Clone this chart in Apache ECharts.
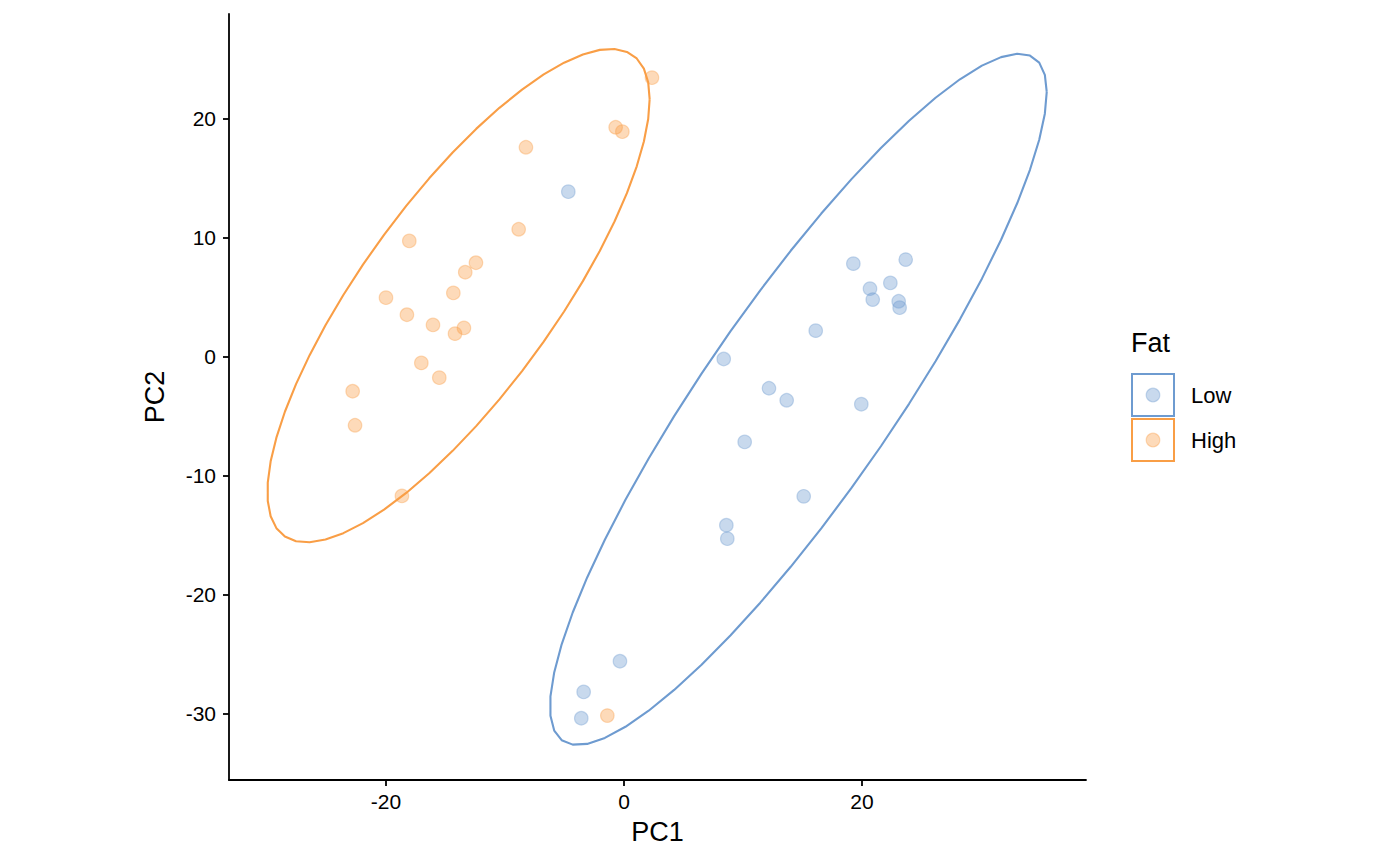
<!DOCTYPE html>
<html>
<head>
<meta charset="utf-8">
<script src="https://cdn.jsdelivr.net/npm/echarts@6/dist/echarts.min.js"></script>
<style>
html,body{margin:0;padding:0;background:#fff;}
#chart{width:1400px;height:865px;}
</style>
</head>
<body>
<div id="chart"></div>
<script>
// ---- data ----
const groups = ['Low', 'High'];
const lowPC1 = [-4.68, 23.67, 19.27, 22.38, 20.67, 20.90, 23.08, 23.16, 16.11, 8.38, 12.18, 13.67, 19.94, 10.14, 15.10, 8.60, 8.68, -0.34, -3.39, -3.59];
const lowPC2 = [13.89, 8.18, 7.84, 6.22, 5.74, 4.82, 4.68, 4.14, 2.21, -0.17, -2.63, -3.64, -3.97, -7.14, -11.71, -14.14, -15.27, -25.57, -28.15, -30.36];
const highPC1 = [2.35, -0.70, -0.14, -8.24, -8.85, -18.04, -12.44, -13.34, -14.34, -20.00, -18.24, -16.05, -13.45, -14.20, -17.03, -15.52, -22.80, -22.60, -18.66, -1.40];
const highPC2 = [23.47, 19.30, 18.93, 17.62, 10.73, 9.75, 7.92, 7.12, 5.38, 4.98, 3.55, 2.69, 2.44, 1.96, -0.50, -1.74, -2.88, -5.74, -11.68, -30.14];
const xTicks = [-20, 0, 20];
const yTicks = [-30, -20, -10, 0, 10, 20];
const xRange = [-33.19, 38.82];
const yRange = [-35.55, 28.82];

const colors = { Low: '#6E9BD0', High: '#F99E46' };

// ---- stat_ellipse (type "t", level 0.95) computed from the points ----
function covTrob(pts, nu, maxit, tol) {
  const n = pts.length, p = 2;
  let loc = [0, 0];
  pts.forEach(q => { loc[0] += q[0] / n; loc[1] += q[1] / n; });
  let w = new Array(n).fill(1);
  let X = null;
  for (let iter = 0; iter < maxit; iter++) {
    const w0 = w.slice();
    X = pts.map(q => [q[0] - loc[0], q[1] - loc[1]]);
    const sw = w.reduce((a, b) => a + b, 0);
    let sxx = 0, sxy = 0, syy = 0;
    for (let i = 0; i < n; i++) {
      sxx += w[i] * X[i][0] * X[i][0] / sw;
      sxy += w[i] * X[i][0] * X[i][1] / sw;
      syy += w[i] * X[i][1] * X[i][1] / sw;
    }
    const det = sxx * syy - sxy * sxy;
    w = X.map(v => {
      const Q = (syy * v[0] * v[0] - 2 * sxy * v[0] * v[1] + sxx * v[1] * v[1]) / det;
      return (nu + p) / (nu + Q);
    });
    const sw2 = w.reduce((a, b) => a + b, 0);
    loc = [0, 0];
    for (let i = 0; i < n; i++) { loc[0] += w[i] * pts[i][0] / sw2; loc[1] += w[i] * pts[i][1] / sw2; }
    let done = true;
    for (let i = 0; i < n; i++) if (Math.abs(w[i] - w0[i]) >= tol) { done = false; break; }
    if (done) break;
  }
  let cxx = 0, cxy = 0, cyy = 0;
  for (let i = 0; i < n; i++) {
    cxx += w[i] * X[i][0] * X[i][0] / n;
    cxy += w[i] * X[i][0] * X[i][1] / n;
    cyy += w[i] * X[i][1] * X[i][1] / n;
  }
  return { center: loc, cov: [[cxx, cxy], [cxy, cyy]] };
}
function ellipsePath(pts) {
  const n = pts.length, segments = 51, level = 0.95;
  const est = covTrob(pts, 5, 25, 0.01);
  const dfd = n - 1;
  const fq = (dfd / 2) * (Math.pow(1 - level, -2 / dfd) - 1); // qf(level, 2, dfd)
  const r = Math.sqrt(2 * fq);
  const a = Math.sqrt(est.cov[0][0]);
  const b = est.cov[0][1] / a;
  const c = Math.sqrt(est.cov[1][1] - b * b);
  const out = [];
  for (let k = 0; k <= segments; k++) {
    const t = k * 2 * Math.PI / segments;
    const ct = Math.cos(t), st = Math.sin(t);
    out.push([est.center[0] + r * ct * a, est.center[1] + r * (ct * b + st * c)]);
  }
  return out;
}

const lowPts = lowPC1.map((v, i) => [v, lowPC2[i]]);
const highPts = highPC1.map((v, i) => [v, highPC2[i]]);
const ptsBy = { Low: lowPts, High: highPts };

function rgba(hex, a) {
  const v = parseInt(hex.slice(1), 16);
  return 'rgba(' + (v >> 16 & 255) + ',' + (v >> 8 & 255) + ',' + (v & 255) + ',' + a + ')';
}

const series = [];
groups.forEach(g => {
  series.push({
    name: g, type: 'scatter', data: ptsBy[g], symbolSize: 13.5,
    itemStyle: { color: rgba(colors[g], 0.38), borderColor: rgba(colors[g], 0.38), borderWidth: 1.2, opacity: 1 },
    emphasis: { disabled: true }, z: 2
  });
});
groups.forEach(g => {
  series.push({
    name: g + ' ellipse', type: 'line', data: ellipsePath(ptsBy[g]), showSymbol: false, smooth: false,
    lineStyle: { color: colors[g], width: 2.1 }, emphasis: { disabled: true }, z: 3
  });
});

const font = 'Liberation Sans, Arial, Helvetica, sans-serif';
const legendX = 1131, legendY = 374, box = 44;
const graphic = [
  { type: 'text', left: legendX, top: 329, style: { text: 'Fat', font: '27px ' + font, fill: '#000' } }
];
groups.forEach((g, i) => {
  const y0 = legendY + i * (box + 1);
  graphic.push({ type: 'rect', shape: { x: legendX + 1, y: y0, width: box - 2, height: box - 2 },
    style: { fill: 'none', stroke: colors[g], lineWidth: 2 } });
  graphic.push({ type: 'circle', shape: { cx: legendX + box / 2, cy: y0 + box / 2 - 1, r: 6.8 },
    style: { fill: rgba(colors[g], 0.38), stroke: rgba(colors[g], 0.38), lineWidth: 1.2 } });
  graphic.push({ type: 'text', x: 1191, y: y0 + box / 2 - 1,
    style: { text: g, font: '22px ' + font, fill: '#000', verticalAlign: 'middle' } });
});

const chart = echarts.init(document.getElementById('chart'), null, { renderer: 'svg' });
chart.setOption({
  animation: false,
  backgroundColor: '#fff',
  grid: { left: 229, right: 314, top: 14, bottom: 85, containLabel: false },
  xAxis: {
    type: 'value', min: xRange[0], max: xRange[1],
    name: 'PC1', nameLocation: 'middle', nameGap: 38,
    nameTextStyle: { fontSize: 27, color: '#000', fontFamily: font },
    axisLine: { show: true, onZero: false, lineStyle: { color: '#000', width: 1.8 } },
    axisTick: { show: true, length: 6, lineStyle: { color: '#000', width: 1.8 }, customValues: xTicks },
    axisLabel: { fontSize: 21, color: '#000', fontFamily: font, margin: 11, customValues: xTicks },
    splitLine: { show: false }
  },
  yAxis: {
    type: 'value', min: yRange[0], max: yRange[1],
    name: 'PC2', nameLocation: 'middle', nameGap: 61, nameRotate: 90,
    nameTextStyle: { fontSize: 27, color: '#000', fontFamily: font },
    axisLine: { show: true, onZero: false, lineStyle: { color: '#000', width: 1.8 } },
    axisTick: { show: true, length: 6, lineStyle: { color: '#000', width: 1.8 }, customValues: yTicks },
    axisLabel: { fontSize: 21, color: '#000', fontFamily: font, margin: 13, customValues: yTicks },
    splitLine: { show: false }
  },
  graphic: graphic,
  series: series
});
</script>
</body>
</html>
